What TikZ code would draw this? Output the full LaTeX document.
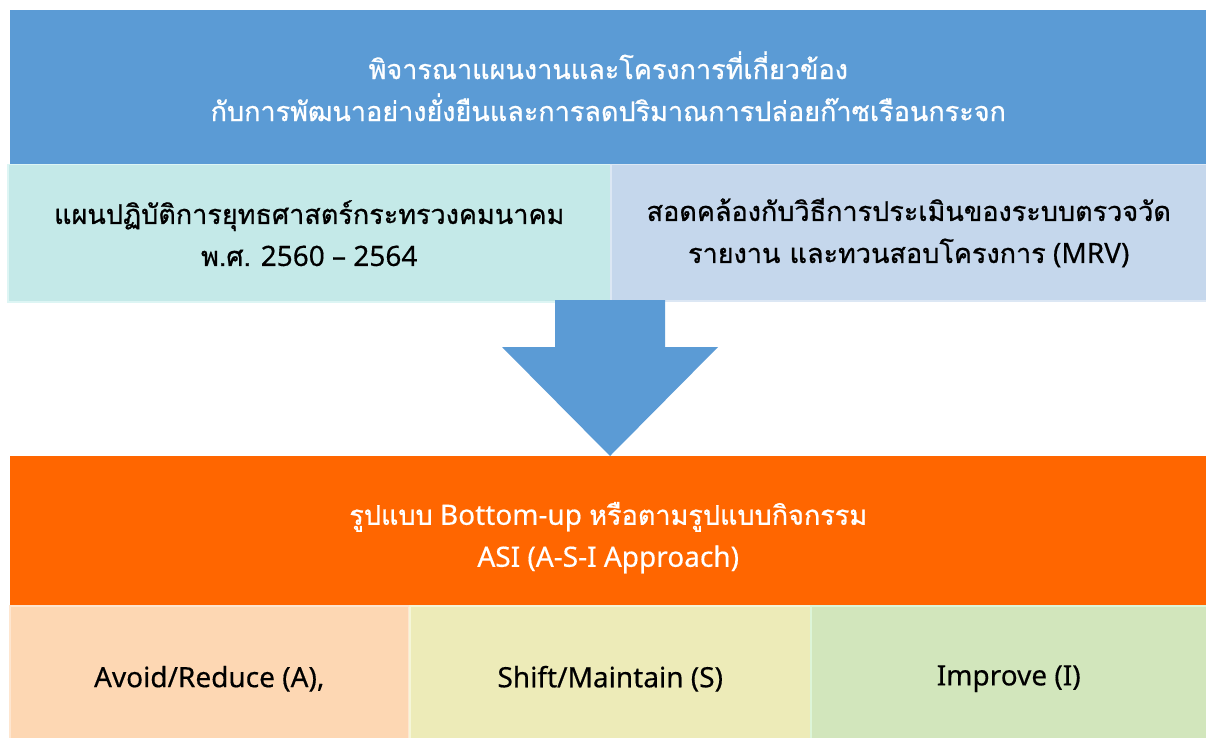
\documentclass[tikz,border=0pt]{standalone}
\usepackage{fontspec}
\setmainfont[FakeBold=0.4]{Noto Sans}
\newfontfamily\thaifont[Script=Thai,Scale=0.965,FakeBold=0.8]{Loma}
\newcommand{\thtxt}[1]{{\thaifont #1}}
\definecolor{topblue}{HTML}{5B9BD5}
\definecolor{tealbox}{HTML}{C4E9E8}
\definecolor{tealedge}{HTML}{DDF5F4}
\definecolor{lavbox}{HTML}{C5D7EC}
\definecolor{lavedge}{HTML}{DCE7F4}
\definecolor{orangebox}{HTML}{FF6600}
\definecolor{peachbox}{HTML}{FDD7B3}
\definecolor{peachedge}{HTML}{FEE6D0}
\definecolor{yellowbox}{HTML}{EDEBB8}
\definecolor{yellowedge}{HTML}{F5F6D8}
\definecolor{greenbox}{HTML}{D2E6BC}
\definecolor{greenedge}{HTML}{DDF5D8}
\begin{document}
\begin{tikzpicture}[x=1pt,y=-1pt,
  box/.style={inner sep=0pt, anchor=north west, line width=1.5pt},
  txt/.style={inner sep=0pt, align=center, font=\fontsize{28}{42}\selectfont},
  arrowfill/.style={fill=topblue}]
\useasboundingbox (0,0) rectangle (1206,738);
\fill[white] (0,0) rectangle (1206,738);
\node[box, fill=topblue, minimum width=1197pt, minimum height=155pt] (top) at (9,9) {};
\node[txt, text=white] (toptxt) at ([yshift=1pt]top.center)
  {\thtxt{พิจารณาแผนงานและโครงการที่เกี่ยวข้อง}\\\thtxt{กับการพัฒนาอย่างยั่งยืนและการลดปริมาณการปล่อยก๊าซเรือนกระจก}};
\node[box, fill=tealbox, draw=tealedge, minimum width=603pt, minimum height=137pt] (plan) at (7,164) {};
\node[txt] (plantxt) at (plan.center)
  {\thtxt{แผนปฏิบัติการยุทธศาสตร์กระทรวงคมนาคม}\\\thtxt{พ.ศ.} 2560 – 2564};
\node[box, fill=lavbox, draw=lavedge, minimum width=596pt, minimum height=136pt] (mrv) at (610,164) {};
\node[txt] (mrvtxt) at (mrv.center)
  {\thtxt{สอดคล้องกับวิธีการประเมินของระบบตรวจวัด}\\\thtxt{รายงาน และทวนสอบโครงการ} (MRV)};
\coordinate (tip) at (610,456);
\fill[arrowfill] (555,300) -- (665,300) -- (665,347) -- (718,347) -- (tip) -- (502,347) -- (555,347) -- cycle;
\node[box, fill=orangebox, minimum width=1197pt, minimum height=150pt] (asi) at (9,455) {};
\node[txt, text=white] (asitxt) at ([yshift=-7pt]asi.center)
  {\thtxt{รูปแบบ} Bottom-up \thtxt{หรือตามรูปแบบกิจกรรม}\\ASI (A-S-I Approach)};
\node[box, fill=peachbox, draw=peachedge, minimum width=399pt, minimum height=134pt] (avoid) at (9,605) {};
\node[txt] (avoidtxt) at ([yshift=-6pt]avoid.center) {Avoid/Reduce (A),};
\node[box, fill=yellowbox, draw=yellowedge, minimum width=401pt, minimum height=134pt] (shift) at (409,605) {};
\node[txt] (shifttxt) at ([yshift=-6pt]shift.center) {Shift/Maintain (S)};
\node[box, fill=greenbox, draw=greenedge, minimum width=396pt, minimum height=134pt] (improve) at (810,605) {};
\node[txt] (improvetxt) at ([yshift=-6pt]improve.center) {Improve (I)};
\end{tikzpicture}
\end{document}
